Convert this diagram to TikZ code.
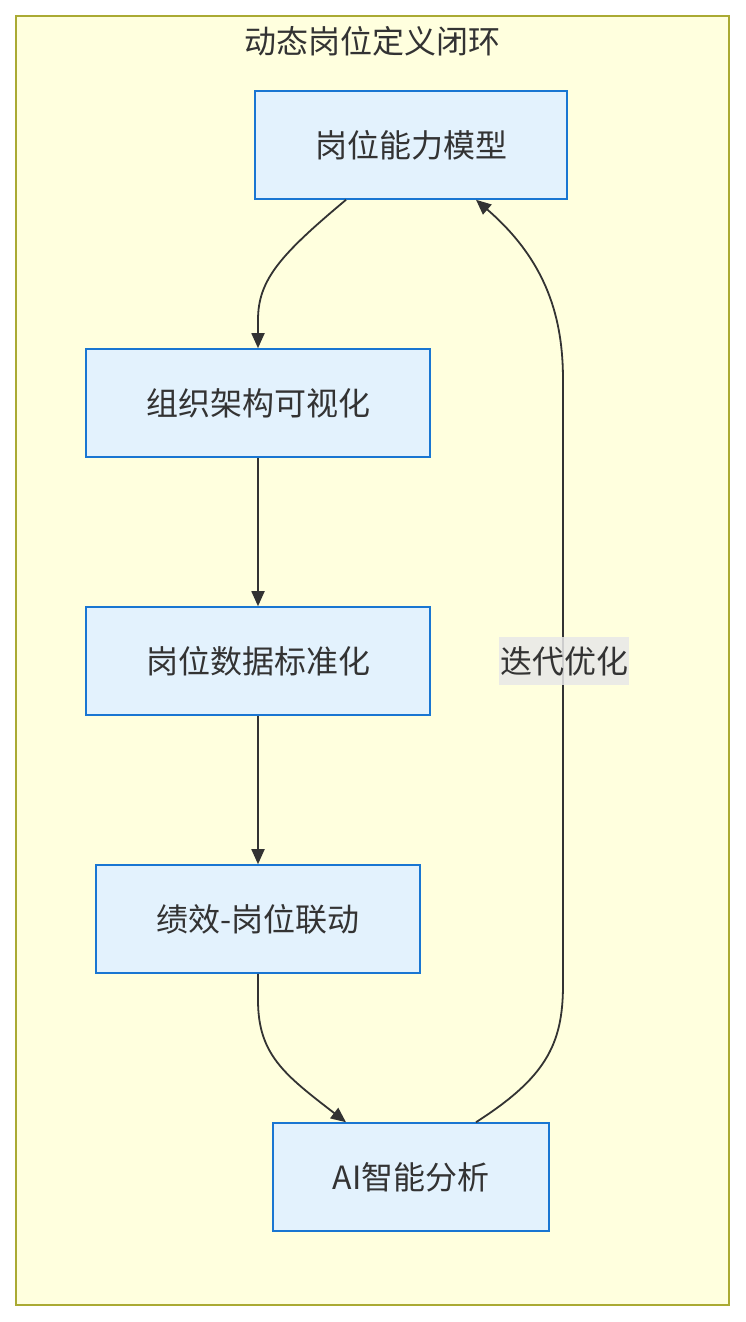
\documentclass[tikz,border=0pt]{standalone}
\usepackage{fontspec}
\setmainfont{Noto Sans CJK SC}
\usetikzlibrary{arrows.meta}
\definecolor{clusterfill}{HTML}{FFFFDE}
\definecolor{clusterline}{HTML}{AAAA33}
\definecolor{nodefill}{HTML}{E3F2FD}
\definecolor{nodeline}{HTML}{1976D2}
\definecolor{txt}{HTML}{333333}
\definecolor{lblbg}{HTML}{E8E8E8}
\begin{document}
\begin{tikzpicture}[x=1pt,y=-1pt,
  box/.style={draw=nodeline,fill=nodefill,line width=1.6pt,inner sep=0pt,
    text=txt,font=\fontsize{32}{38}\selectfont},
  edge/.style={draw=txt,line width=1.8pt,-{Triangle[length=15pt,width=13pt]}},
  lbl/.style={fill=lblbg,fill opacity=0.85,text opacity=1,text=txt,inner sep=1pt,
    font=\fontsize{32}{38}\selectfont,minimum height=48pt}]
\useasboundingbox (0,0) rectangle (745,1322);
\fill[white] (0,0) rectangle (745,1322);
\draw[clusterline,fill=clusterfill,line width=1.4pt] (16,16) rectangle (729,1305);
\node[text=txt,font=\fontsize{32}{38}\selectfont] (title) at (372,41) {动态岗位定义闭环};
\node[box,minimum width=312pt,minimum height=108pt] (n1) at (411,145) {岗位能力模型};
\node[box,minimum width=344pt,minimum height=108pt] (n2) at (258,403) {组织架构可视化};
\node[box,minimum width=344pt,minimum height=108pt] (n3) at (258,661) {岗位数据标准化};
\node[box,minimum width=324pt,minimum height=108pt] (n4) at (258,919) {绩效-岗位联动};
\node[box,minimum width=276pt,minimum height=108pt] (n5) at (411,1177) {AI智能分析};
\coordinate (a1) at ([xshift=-65pt]n1.south);
\coordinate (a5) at ([xshift=-65pt]n5.north);
\coordinate (b5) at ([xshift=65pt]n5.north);
\coordinate (b1) at ([xshift=65pt]n1.south);
\path[edge] (a1) .. controls (280,255) and (258,280) .. (258,320) -- (n2.north);
\path[edge] (n2) -- (n3);
\path[edge] (n3) -- (n4);
\path[edge] (n4.south) -- (258,1000) .. controls (258,1055) and (285,1075) .. (a5);
\path[edge] (b5) .. controls (545,1078) and (563,1045) .. (563,985) -- (563,380)
  .. controls (563,320) and (548,262) .. (b1);
\node[lbl] (l) at (564,661) {迭代优化};
\end{tikzpicture}
\end{document}
